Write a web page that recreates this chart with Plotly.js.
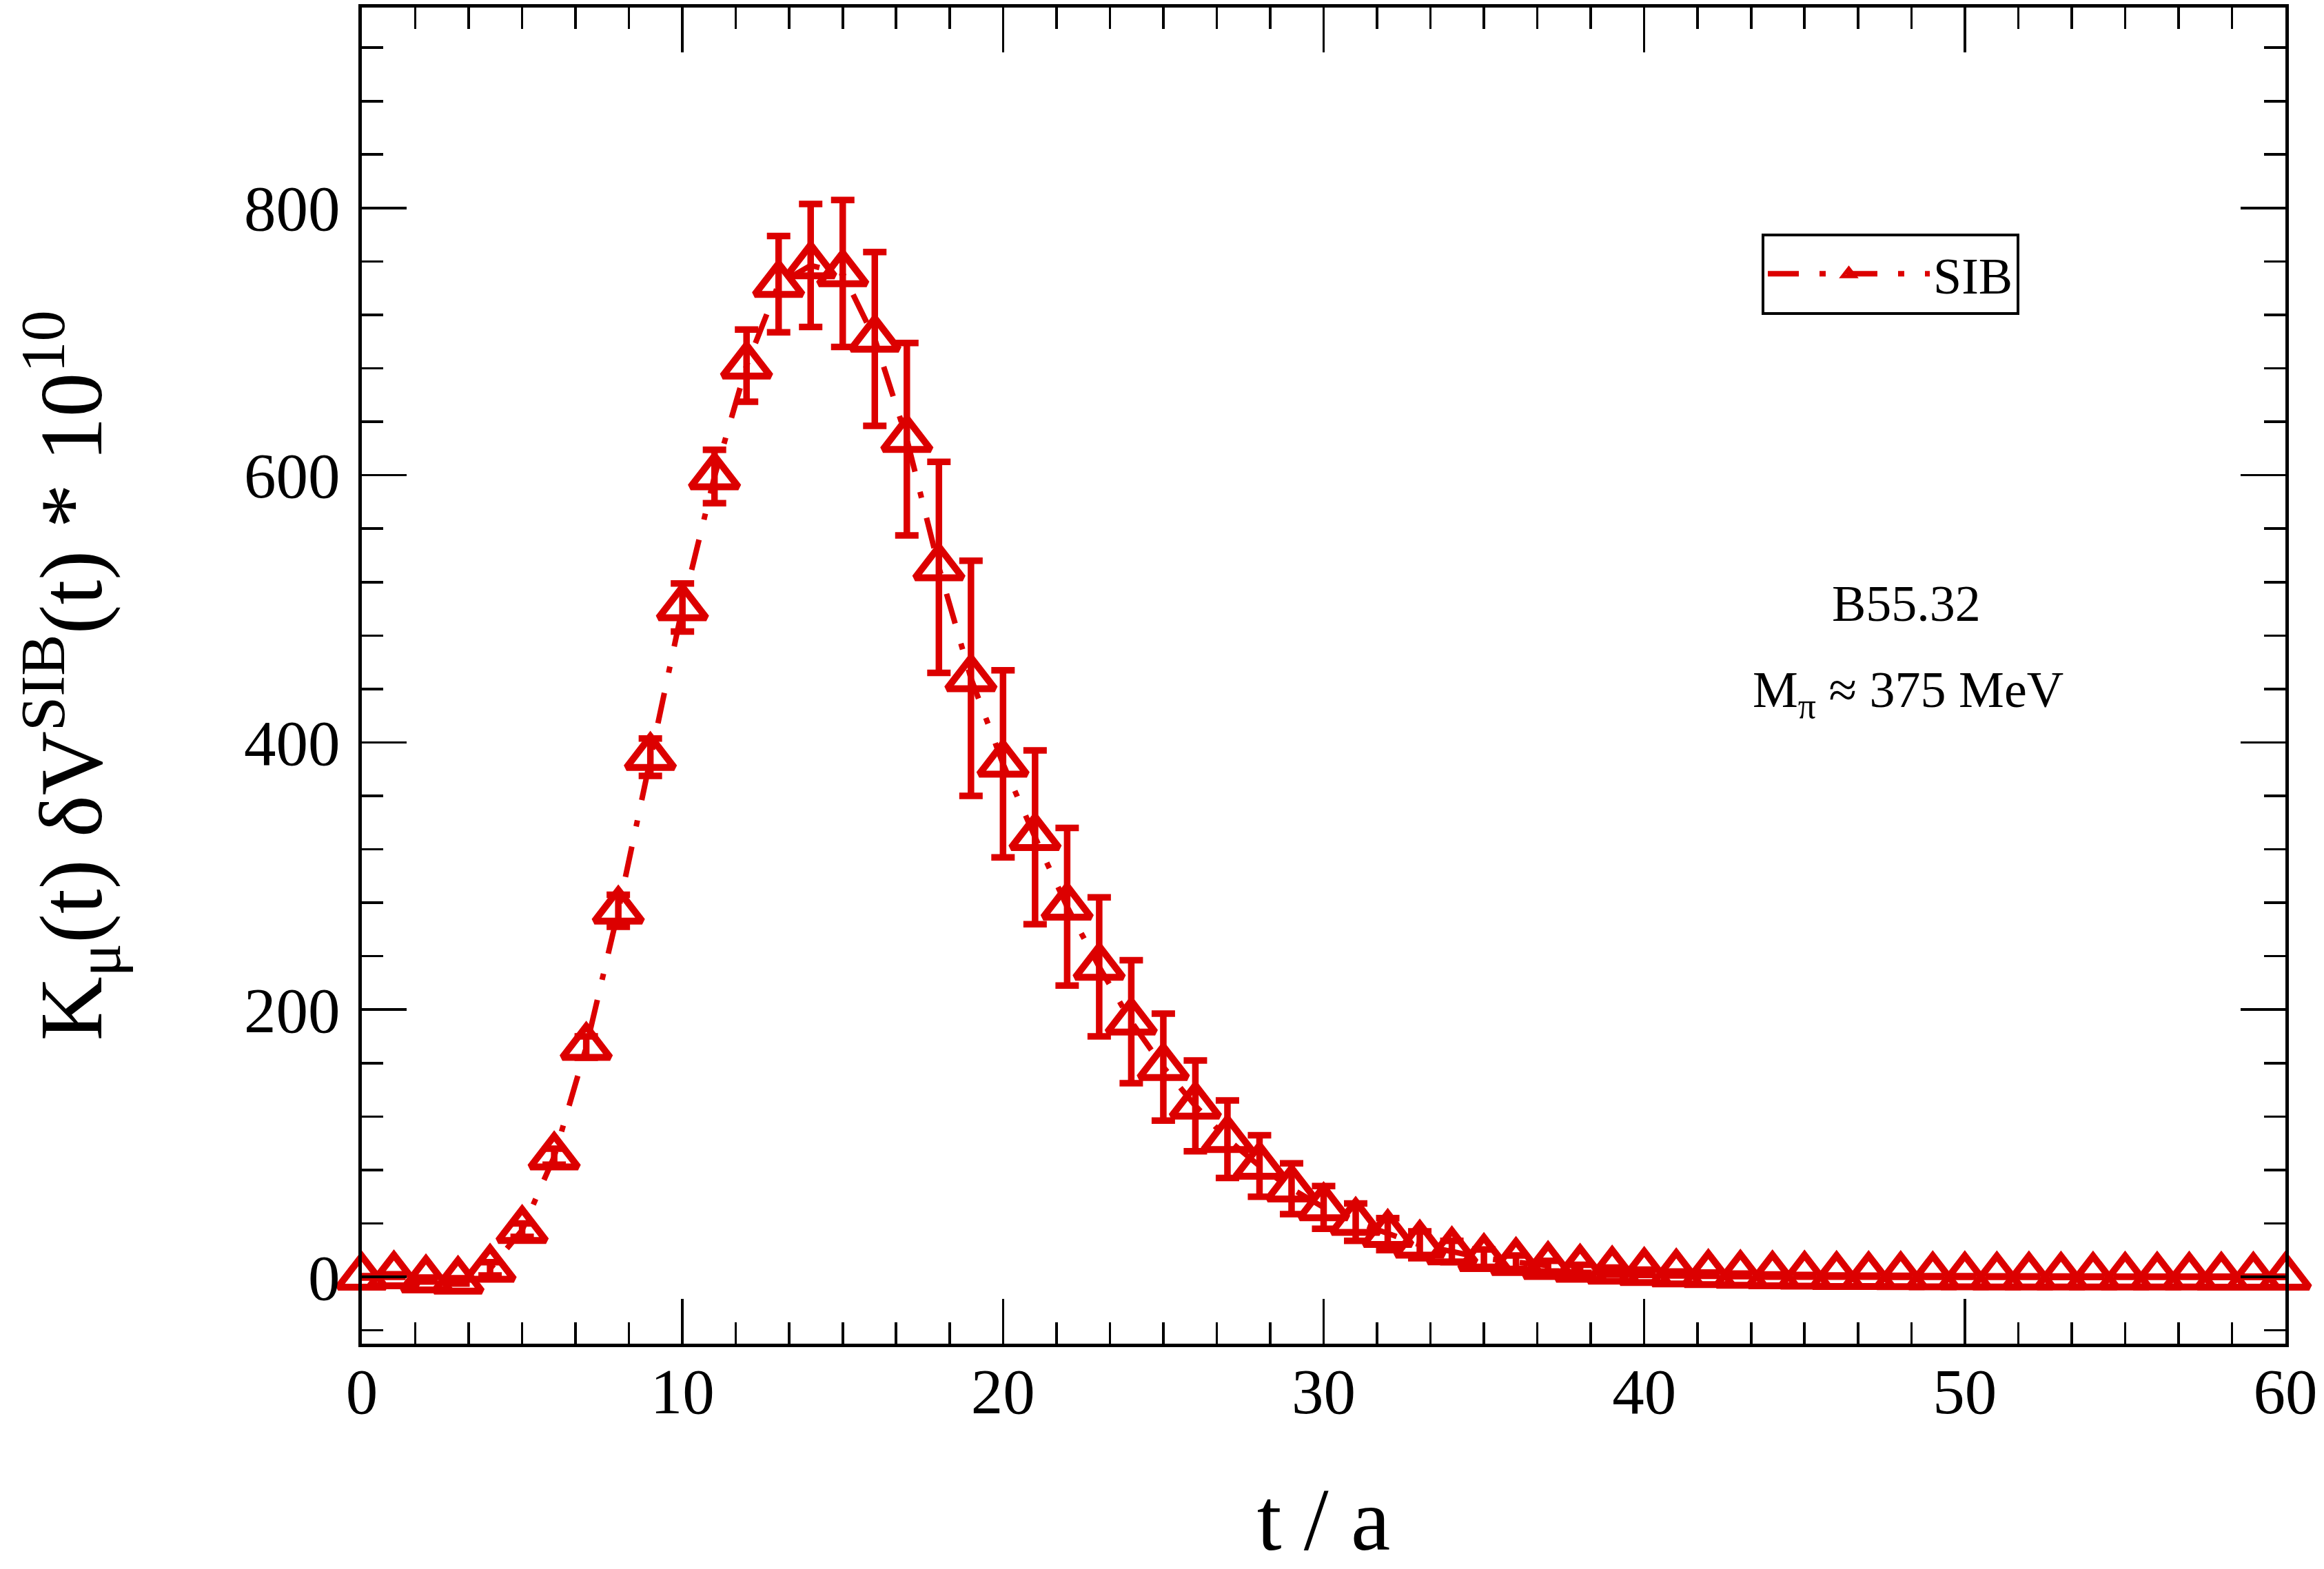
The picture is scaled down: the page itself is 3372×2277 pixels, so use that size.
<!DOCTYPE html>
<html>
<head>
<meta charset="utf-8">
<script src="https://cdn.plot.ly/plotly-3.0.1.min.js"></script>
<style>
  html, body { margin: 0; padding: 0; background: #fff; overflow: hidden; }
</style>
</head>
<body>
<div id="chart"></div>
<script>
const tOverA = [
  0, 1, 2, 3, 4, 5, 6, 7, 8, 9,
  10, 11, 12, 13, 14, 15, 16, 17, 18, 19,
  20, 21, 22, 23, 24, 25, 26, 27, 28, 29,
  30, 31, 32, 33, 34, 35, 36, 37, 38, 39,
  40, 41, 42, 43, 44, 45, 46, 47, 48, 49,
  50, 51, 52, 53, 54, 55, 56, 57, 58, 59, 60,
];

const sibValues = [
  0, 1, -2, -3, 6, 35, 90, 172, 274, 389,
  501, 599, 682, 743, 757, 751, 702, 627, 531, 448,
  384, 329, 277, 232, 191, 157, 128, 103, 83, 66,
  52, 41, 32, 24, 19, 14, 11, 8, 6, 4.5,
  3.5, 2.5, 2, 1.5, 1, 0.8, 0.6, 0.5, 0.4, 0.3,
  0.3, 0.2, 0.2, 0.1, 0.1, 0.1, 0.1, 0.1, 0, 0, 0,
];

const sibErrors = [
  0.5, 1, 1.5, 2, 5, 5, 6, 8, 12, 14,
  18, 20, 27, 36, 46, 55, 65, 72, 79, 88,
  70, 65, 59, 52, 46, 40, 34, 29, 23, 19,
  16, 14, 12, 10, 8, 6.5, 5, 4, 3, 2.5,
  2, 1.5, 1.2, 1, 0.8, 0.6, 0.5, 0.4, 0.4, 0.3,
  0.3, 0.2, 0.2, 0.2, 0.2, 0.1, 0.1, 0.1, 0.1, 0.1, 0.1,
];

const xTickVals = [0, 10, 20, 30, 40, 50, 60];
const yTickVals = [0, 200, 400, 600, 800];

const red = 'rgb(220, 0, 0)';
const serif = 'Liberation Serif, Times New Roman, serif';

const trace = {
  x: tOverA,
  y: sibValues,
  name: 'SIB',
  type: 'scatter',
  mode: 'lines+markers',
  line: {
    color: red,
    width: 8,
    dash: '45px,30px,9px,30px',
  },
  marker: {
    symbol: 'triangle-up-open',
    size: 60,
    color: red,
    line: { color: red, width: 10 },
  },
  error_y: {
    type: 'data',
    array: sibErrors,
    visible: true,
    color: red,
    thickness: 9.5,
    width: 17,
  },
  cliponaxis: false,
};

const axisCommon = {
  showline: true,
  linecolor: 'black',
  linewidth: 4.8,
  mirror: 'allticks',
  ticks: 'inside',
  tickcolor: 'black',
  tickwidth: 3.6,
  ticklen: 65,
  showgrid: false,
  zeroline: false,
  tickfont: { family: serif, size: 93, color: 'black' },
};

const layout = {
  width: 3372,
  height: 2277,
  margin: { l: 525, r: 56, t: 11, b: 327 },
  paper_bgcolor: 'white',
  plot_bgcolor: 'white',
  font: { family: serif, color: 'black' },
  showlegend: true,
  legend: {
    x: 0.7277,
    y: 0.831,
    xanchor: 'left',
    yanchor: 'top',
    bgcolor: 'white',
    bordercolor: 'black',
    borderwidth: 4,
    font: { family: serif, size: 74, color: 'black' },
    itemwidth: 235,
  },
  xaxis: {
    ...axisCommon,
    range: [0, 60],
    tickvals: xTickVals,
    ticklabelstandoff: -15,
    minor: { dtick: 10 / 6, ticks: 'inside', ticklen: 31, tickwidth: 3.6, tickcolor: 'black' },
    title: {
      text: 't / a',
      font: { family: serif, size: 129, color: 'black' },
      standoff: 160,
    },
  },
  yaxis: {
    ...axisCommon,
    range: [-50, 950],
    tickvals: yTickVals,
    ticklabelstandoff: 8,
    minor: { dtick: 40, tick0: 0, ticks: 'inside', ticklen: 31, tickwidth: 3.6, tickcolor: 'black' },
    title: {
      text: 'K<sub>μ</sub>(t) δV<sup>SIB</sup>(t) * 10<sup>10</sup>',
      font: { family: serif, size: 129, color: 'black' },
      standoff: 164,
    },
  },
  annotations: [
    {
      text: 'B55.32',
      xref: 'paper', yref: 'paper',
      x: 0.803, y: 0.554,
      xanchor: 'center', yanchor: 'middle',
      showarrow: false,
      font: { family: serif, size: 74, color: 'black' },
    },
    {
      text: 'M<sub>π</sub> ≈ 375 MeV',
      xref: 'paper', yref: 'paper',
      x: 0.804, y: 0.4866,
      xanchor: 'center', yanchor: 'middle',
      showarrow: false,
      font: { family: serif, size: 74, color: 'black' },
    },
  ],
};

const config = {
  displayModeBar: false,
  staticPlot: true,
};

Plotly.newPlot('chart', [trace], layout, config);
</script>
</body>
</html>
